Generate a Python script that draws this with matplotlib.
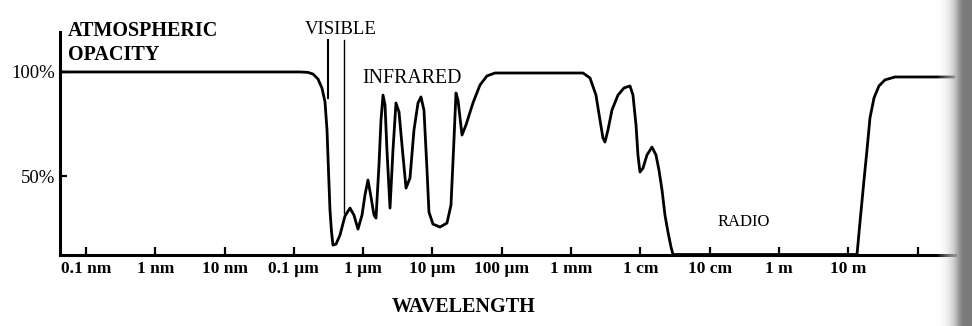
import numpy as np
import matplotlib
matplotlib.use("Agg")
import matplotlib.pyplot as plt

plt.rcParams['font.family'] = ['Liberation Serif', 'DejaVu Serif']

# ---- data ----
# wavelength as log10(metres)
log_wavelength = [
    -10.375, -6.912, -6.797, -6.724, -6.652, -6.595, -6.551, -6.522, -6.501,
    -6.479, -6.457, -6.436, -6.392, -6.335, -6.263, -6.190, -6.133, -6.075,
    -6.017, -5.974, -5.931, -5.887, -5.844, -5.815, -5.772, -5.743, -5.714,
    -5.685, -5.657, -5.613, -5.570, -5.527, -5.483, -5.440, -5.382, -5.325,
    -5.267, -5.209, -5.166, -5.123, -5.079, -5.051, -4.993, -4.892, -4.791,
    -4.733, -4.690, -4.661, -4.632, -4.574, -4.517, -4.416, -4.315, -4.214,
    -4.098, -2.828, -2.727, -2.641, -2.583, -2.540, -2.511, -2.468, -2.410,
    -2.323, -2.237, -2.150, -2.107, -2.063, -2.035, -2.006, -1.962, -1.905,
    -1.833, -1.775, -1.732, -1.688, -1.645, -1.602, -1.558, -1.530, 1.126,
    1.169, 1.227, 1.270, 1.313, 1.371, 1.443, 1.530, 1.674, 2.540,
]
opacity_pct = [
    100.0, 100.0, 99.8, 99.0, 96.6, 92.3, 85.6, 72.1, 52.9,
    33.6, 23.1, 16.8, 17.3, 21.6, 30.8, 34.6, 31.2, 24.5,
    31.2, 40.9, 48.1, 39.9, 31.2, 29.8, 55.3, 76.9, 88.9,
    84.1, 62.5, 34.6, 62.5, 85.1, 80.8, 64.9, 44.2, 49.0,
    72.1, 85.1, 88.0, 81.7, 52.9, 32.7, 26.9, 25.5, 27.4,
    36.1, 67.3, 89.9, 86.5, 69.7, 74.5, 85.1, 93.7, 98.1,
    99.5, 99.5, 97.1, 88.9, 76.9, 68.3, 66.3, 72.1, 81.7,
    88.9, 92.3, 93.3, 88.9, 74.5, 60.1, 51.9, 53.8, 60.1,
    63.9, 60.1, 52.9, 43.3, 31.2, 23.1, 15.9, 12.3, 12.3,
    27.9, 48.1, 62.5, 77.9, 87.5, 93.3, 96.2, 97.6, 97.6,
]
tick_log_wavelength = [-10, -9, -8, -7, -6, -5, -4, -3, -2, -1, 0, 1, 2]
tick_labels = ['0.1 nm', '1 nm', '10 nm', '0.1 µm', '1 µm', '10 µm', '100 µm',
               '1 mm', '1 cm', '10 cm', '1 m', '10 m', '']
y_ticks = [50, 100]
y_tick_labels = ['50%', '100%']
visible_edges_log = [-6.508, -6.277]
visible_line_bottoms = [87.5, 32.2]
visible_line_top = 115.4

W, H = 972, 326
fig = plt.figure(figsize=(W / 100, H / 100), dpi=100)

def px(x, y):
    return x / W, 1 - y / H

ax_left, ax_right, ax_top, ax_bottom = 60, 955, 32, 254.5
ax = fig.add_axes([ax_left / W, (H - ax_bottom) / H,
                   (ax_right - ax_left) / W, (ax_bottom - ax_top) / H])

wl = 10 ** np.array(log_wavelength)
ax.plot(wl, opacity_pct, color='black', lw=2.0, solid_joinstyle='round',
        solid_capstyle='round', zorder=3)

# visible band markers
ax.plot([10 ** visible_edges_log[0]] * 2, [visible_line_bottoms[0], visible_line_top],
        color='black', lw=1.5)
ax.plot([10 ** visible_edges_log[1]] * 2, [visible_line_bottoms[1], visible_line_top],
        color='black', lw=1.0)

ax.set_xscale('log')
ax.set_xlim(10 ** -10.375, 10 ** 2.540)
ax.set_ylim(12.3, 119.2)
ax.set_xticks([10.0 ** t for t in tick_log_wavelength])
ax.set_xticklabels(tick_labels, fontweight='bold', fontsize=12.5)
ax.xaxis.set_minor_locator(matplotlib.ticker.NullLocator())
ax.set_yticks(y_ticks)
ax.set_yticklabels(y_tick_labels, fontsize=13.5)
ax.tick_params(axis='x', direction='in', length=6, width=1.6, pad=4.5)
ax.tick_params(axis='y', direction='in', length=5, width=1.6, pad=3.5)

for s in ['top', 'right']:
    ax.spines[s].set_visible(False)
for s in ['left', 'bottom']:
    ax.spines[s].set_linewidth(2.2)
ax.patch.set_alpha(0)

# labels
fig.text(*px(68, 31), 'ATMOSPHERIC', fontsize=14.5, fontweight='bold', ha='left', va='center')
fig.text(*px(68, 55), 'OPACITY', fontsize=14.5, fontweight='bold', ha='left', va='center')
fig.text(*px(341, 29.5), 'VISIBLE', fontsize=13.5, ha='center', va='center')
fig.text(*px(412, 79), 'INFRARED', fontsize=14.3, ha='center', va='center')
fig.text(*px(744, 222), 'RADIO', fontsize=12, ha='center', va='center')
fig.text(*px(464, 307), 'WAVELENGTH', fontsize=14.5, fontweight='bold', ha='center', va='center')

# scanned page-edge shading on the right
sax = fig.add_axes([936 / W, 0, (W - 936) / W, 1], zorder=5)
grad = np.clip(np.linspace(0, 1.3, 60), 0, 1) * 0.6
sax.imshow(np.tile(grad, (10, 1)), cmap='Greys', vmin=0, vmax=1, aspect='auto',
           extent=[0, 1, 0, 1], alpha=np.tile(np.clip(np.linspace(0, 1.5, 60), 0, 1), (10, 1)))
sax.set_axis_off()

fig.savefig('out.png', dpi=100)
